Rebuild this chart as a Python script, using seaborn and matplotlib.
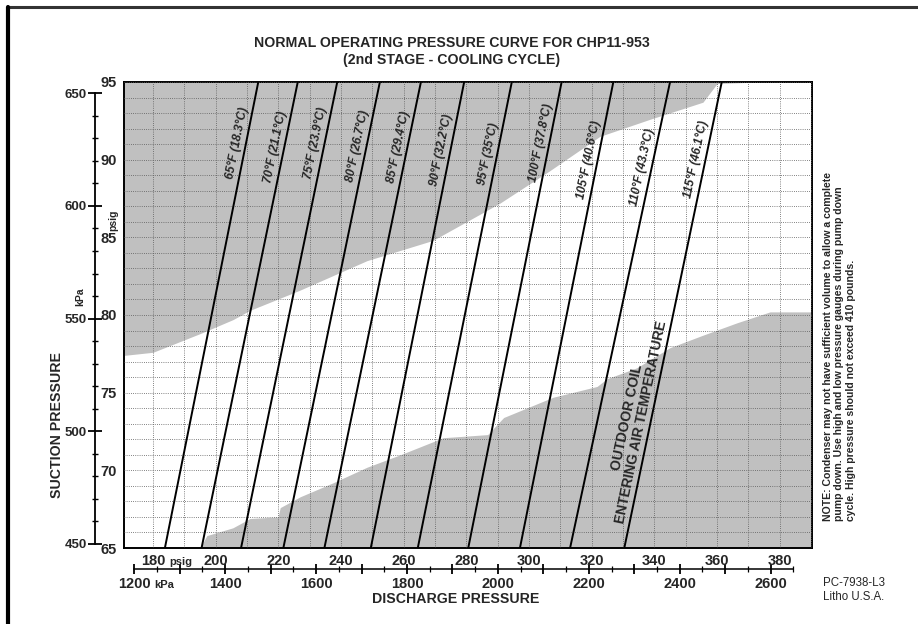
import numpy as np
import pandas as pd
import matplotlib
matplotlib.use("Agg")
import matplotlib.pyplot as plt
from matplotlib.lines import Line2D
from matplotlib.ticker import FixedLocator, FuncFormatter
import seaborn as sns

# ---------------- data ----------------
temps_f = [65, 70, 75, 80, 85, 90, 95, 100, 105, 110, 115]
temps_c = ["18.3", "21.1", "23.9", "26.7", "29.4", "32.2", "35", "37.8", "40.6", "43.3", "46.1"]
# discharge pressure (psig) of each temperature line at suction 65 and 95 psig
discharge_at_65 = [183.8, 195.5, 208.1, 221.6, 234.7, 249.5, 264.5, 280.6, 297.1, 313.1, 330.4]
discharge_at_95 = [213.6, 226.2, 238.8, 252.4, 265.5, 279.3, 294.5, 310.4, 326.9, 345.0, 361.5]
suction_ends = [65, 95]

# upper shaded region boundary (discharge psig, suction psig)
upper_x = [170.75, 180.0, 195.0, 205.5, 210.95, 226.9, 248.3, 269.3, 290.7, 306.7, 322.6, 338.6, 355.5, 360.0, 373.7]
upper_y = [77.4, 77.6, 78.8, 79.7, 80.3, 81.6, 83.5, 84.8, 87.2, 89.3, 91.5, 92.6, 93.7, 94.9, 95.0]
# lower shaded region boundary
lower_x = [195.0, 197.2, 205.5, 210.95, 219.9, 220.6, 227.0, 237.5, 248.3, 258.9, 272.6, 286.8, 291.9,
           307.6, 321.7, 324.9, 334.4, 345.0, 355.5, 366.4, 376.9, 390.3]
lower_y = [65.0, 65.8, 66.3, 66.9, 67.0, 67.6, 68.3, 69.2, 70.2, 71.0, 72.1, 72.3, 73.4,
           74.7, 75.4, 75.9, 76.6, 77.9, 78.7, 79.5, 80.2, 80.2]

psig_x_ticks = list(range(180, 381, 20))
psig_y_ticks = list(range(65, 96, 5))
kpa_y_ticks = [450, 500, 550, 600, 650]
kpa_x_ticks = list(range(1200, 2601, 100))
KPA_PER_PSI = 6.895

# ---------------- style ----------------
sns.set_theme(style="white")
plt.rcParams["font.family"] = ["Liberation Sans", "DejaVu Sans"]
plt.rcParams["font.weight"] = "bold"

W, H = 918, 624
fig = plt.figure(figsize=(W / 100, H / 100), dpi=100)
fig.patch.set_facecolor("white")


def fx(px):
    return px / W


def fy(py):
    return 1 - py / H


ax = fig.add_axes([fx(124), fy(548), 688 / W, 466 / H])
ax.set_facecolor("white")
XL = (170.75, 390.3)
ax.set_xlim(*XL)
ax.set_ylim(65, 95)

GRAY = "#c0c0c0"
ax.fill_between(upper_x, upper_y, 95, color=GRAY, lw=0, zorder=1)
ax.fill_between(lower_x, 65, lower_y, color=GRAY, lw=0, zorder=1)

rows = []
for f, lo, hi in zip(temps_f, discharge_at_65, discharge_at_95):
    rows.append({"temp": f, "discharge": lo, "suction": suction_ends[0]})
    rows.append({"temp": f, "discharge": hi, "suction": suction_ends[1]})
df = pd.DataFrame(rows)
sns.lineplot(data=df, x="discharge", y="suction", units="temp", estimator=None,
             color="black", lw=1.4, sort=False, ax=ax, zorder=4)
ax.set_xlabel("")
ax.set_ylabel("")
ax.set_xlim(*XL)
ax.set_ylim(65, 95)

# grid
ax.xaxis.set_major_locator(FixedLocator(psig_x_ticks))
ax.xaxis.set_minor_locator(FixedLocator(list(range(190, 391, 20))))
ax.yaxis.set_major_locator(FixedLocator(psig_y_ticks))
ax.yaxis.set_minor_locator(FixedLocator([v for v in range(65, 96) if v % 5]))
ax.set_axisbelow(False)
ax.grid(which="both", color="#5a5a5a", lw=0.6, ls=(0, (1, 1.6)))
ax.tick_params(which="both", length=0)
ax.tick_params(axis="x", labelsize=10.5, pad=4)
ax.tick_params(axis="y", labelsize=10.5, pad=5)
for s in ax.spines.values():
    s.set_color("black")
    s.set_linewidth(1.4)
    s.set_visible(True)

# secondary kPa axes
sec_y = ax.secondary_yaxis(-0.0422, functions=(lambda p: p * KPA_PER_PSI, lambda k: k / KPA_PER_PSI))
sec_y.yaxis.set_major_locator(FixedLocator(kpa_y_ticks))
sec_y.yaxis.set_minor_locator(FixedLocator([v for v in range(450, 651, 10) if v % 50]))
sec_y.tick_params(which="major", direction="inout", length=10, width=1.3, labelsize=9.5, pad=1, color="black")
sec_y.tick_params(which="minor", direction="inout", length=5, width=1.0, color="black")
sec_y.spines["left"].set_bounds(450, 650)
sec_y.spines["left"].set_color("black")
sec_y.spines["left"].set_linewidth(1.3)

sec_x = ax.secondary_xaxis(-0.045, functions=(lambda p: p * KPA_PER_PSI, lambda k: k / KPA_PER_PSI))
sec_x.xaxis.set_major_locator(FixedLocator(kpa_x_ticks))
sec_x.xaxis.set_major_formatter(FuncFormatter(lambda v, p: f"{int(round(v))}" if int(round(v)) % 200 == 0 else ""))
sec_x.xaxis.set_minor_locator(FixedLocator(list(range(1250, 2651, 100))))
sec_x.tick_params(which="major", direction="inout", length=7, width=1.3, labelsize=10.5, pad=2, color="black")
sec_x.tick_params(which="minor", direction="inout", length=4, width=0.9, color="black")
sec_x.spines["bottom"].set_bounds(1200, 2650)
sec_x.spines["bottom"].set_color("black")
sec_x.spines["bottom"].set_linewidth(1.1)

# temperature labels along lines
label_y = [91.1, 90.8, 91.1, 90.9, 90.8, 90.6, 90.4, 91.1, 90.0, 89.5, 90.0]
for f, c, lo, hi, yl in zip(temps_f, temps_c, discharge_at_65, discharge_at_95, label_y):
    p0 = ax.transData.transform((lo, 65))
    p1 = ax.transData.transform((hi, 95))
    ang = np.degrees(np.arctan2(p1[1] - p0[1], p1[0] - p0[0]))
    xl = lo + (yl - 65) / 30 * (hi - lo)
    ax.annotate(f"{f}°F ({c}°C)", xy=(xl, yl), xytext=(-6.4, 0), textcoords="offset points",
                rotation=ang, rotation_mode="anchor", ha="center", va="center",
                fontsize=8.6, fontstyle="italic", fontweight="bold", zorder=6)

lo, hi = discharge_at_65[-1], discharge_at_95[-1]
p0 = ax.transData.transform((lo, 65))
p1 = ax.transData.transform((hi, 95))
ang = np.degrees(np.arctan2(p1[1] - p0[1], p1[0] - p0[0]))
for txt, yl, off in [("ENTERING AIR TEMPERATURE", 73.1, -6.8), ("OUTDOOR COIL", 73.4, -17.5)]:
    xl = lo + (yl - 65) / 30 * (hi - lo)
    ax.annotate(txt, xy=(xl, yl), xytext=(off, 0), textcoords="offset points",
                rotation=ang, rotation_mode="anchor", ha="center", va="center",
                fontsize=10, fontweight="bold", zorder=6)

# texts
fig.text(fx(452), fy(43), "NORMAL OPERATING PRESSURE CURVE FOR CHP11-953", ha="center", va="center", fontsize=10.2)
fig.text(fx(452), fy(60), "(2nd STAGE - COOLING CYCLE)", ha="center", va="center", fontsize=10.2)
fig.text(fx(57), fy(425), "SUCTION PRESSURE", rotation=90, ha="center", va="center", fontsize=10.2)
fig.text(fx(80), fy(297), "kPa", rotation=90, ha="center", va="center", fontsize=7.5)
fig.text(fx(113), fy(220), "psig", rotation=90, ha="center", va="center", fontsize=7.5)
fig.text(fx(456), fy(599), "DISCHARGE PRESSURE", ha="center", va="center", fontsize=10.2)
fig.text(fx(169), fy(565), "psig", ha="left", va="baseline", fontsize=8)
fig.text(fx(154), fy(588), "kPa", ha="left", va="baseline", fontsize=8)

note = ["NOTE: Condenser may not have sufficient volume to allow a complete",
        "pump down. Use high and low pressure gauges during pump down",
        "cycle. High pressure should not exceed 410 pounds."]
for i, line in enumerate(note):
    fig.text(fx(828 + 11.5 * i), fy(521), line, rotation=90, ha="center", va="bottom", fontsize=7.6)

fig.text(fx(823), fy(583), "PC-7938-L3", ha="left", va="center", fontsize=8.3, fontweight="normal")
fig.text(fx(823), fy(597), "Litho U.S.A.", ha="left", va="center", fontsize=8.3, fontweight="normal")

# outer frame (top and left rules)
fig.add_artist(Line2D([fx(8), 1], [fy(7), fy(7)], color="#333333", lw=2.2))
fig.add_artist(Line2D([fx(8), fx(8)], [fy(7), 0], color="black", lw=3))

fig.savefig("out.png", dpi=100, facecolor="white")
